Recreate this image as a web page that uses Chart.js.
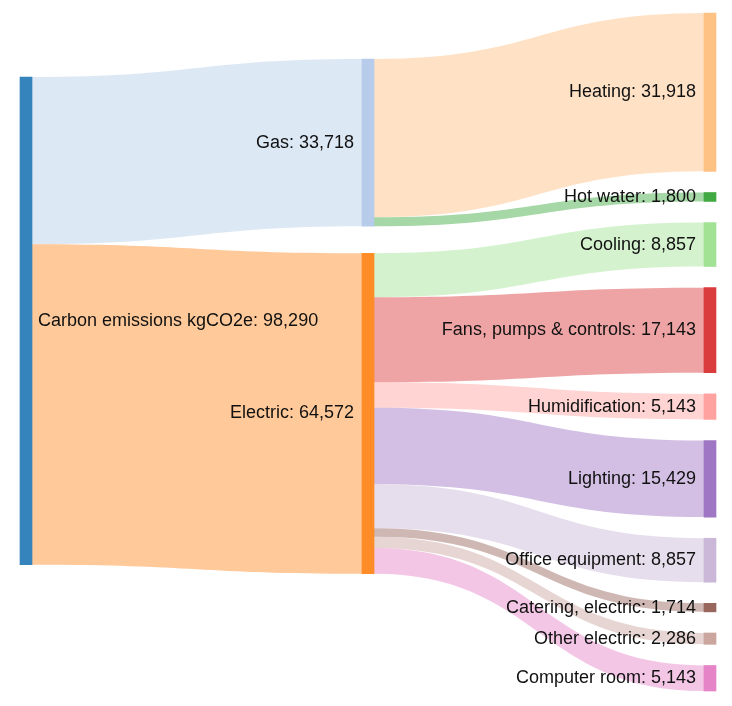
<!DOCTYPE html>
<html>
<head>
<meta charset="utf-8">
<script src="https://cdn.jsdelivr.net/npm/chart.js@4.4.1/dist/chart.umd.min.js"></script>
<style>
  html, body { margin: 0; padding: 0; background: #ffffff; }
  #wrap { width: 732px; height: 706px; position: relative; }
</style>
</head>
<body>
<div id="wrap"><canvas id="c"></canvas></div>
<script>
// ---- data ----
const nodeNames = ['Carbon emissions kgCO2e', 'Gas', 'Electric', 'Heating', 'Hot water', 'Cooling',
  'Fans, pumps & controls', 'Humidification', 'Lighting', 'Office equipment',
  'Catering, electric', 'Other electric', 'Computer room'];
const nodeColumns = [0, 1, 1, 2, 2, 2, 2, 2, 2, 2, 2, 2, 2];
const nodeColors = ['#1f77b4', '#aec7e8', '#ff7f0e', '#ffbb78', '#2ca02c', '#98df8a',
  '#d62728', '#ff9896', '#9467bd', '#c5b0d5', '#8c564b', '#c49c94', '#e377c2'];
const linkSources = [0, 0, 1, 1, 2, 2, 2, 2, 2, 2, 2, 2];
const linkTargets = [1, 2, 3, 4, 5, 6, 7, 8, 9, 10, 11, 12];
const linkValues = [33718, 64572, 31918, 1800, 8857, 17143, 5143, 15429, 8857, 1714, 2286, 5143];
const columnLabels = ['0', '1', '2'];

// ---- layout options (value units on the y scale) ----
const layoutOpts = {
  yMax: 142300,
  colTop: [15520, 11890, 2620],
  colGap: [0, 5440, 4263],
  nodeWidth: 12
};

// node values
const nodeValues = nodeNames.map((_, i) => {
  let inSum = 0, outSum = 0;
  linkValues.forEach((v, k) => {
    if (linkTargets[k] === i) inSum += v;
    if (linkSources[k] === i) outSum += v;
  });
  return Math.max(inSum, outSum);
});

// stack nodes in each column
const nodeTop = [], nodeBottom = [];
const colCursor = layoutOpts.colTop.slice();
nodeNames.forEach((_, i) => {
  const c = nodeColumns[i];
  nodeTop[i] = colCursor[c];
  nodeBottom[i] = nodeTop[i] + nodeValues[i];
  colCursor[c] = nodeBottom[i] + layoutOpts.colGap[c];
});

// link offsets
const linkSrcTop = [], linkTgtTop = [];
const outCursor = nodeTop.slice(), inCursor = nodeTop.slice();
linkValues.forEach((v, k) => {
  linkSrcTop[k] = outCursor[linkSources[k]];
  outCursor[linkSources[k]] += v;
  linkTgtTop[k] = inCursor[linkTargets[k]];
  inCursor[linkTargets[k]] += v;
});

function hexA(hex, a) {
  const n = parseInt(hex.slice(1), 16);
  return `rgba(${(n >> 16) & 255},${(n >> 8) & 255},${n & 255},${a})`;
}

const datasets = nodeNames.map((name, i) => {
  const d = columnLabels.map(() => null);
  d[nodeColumns[i]] = [nodeTop[i], nodeBottom[i]];
  return {
    label: name,
    data: d,
    backgroundColor: hexA(nodeColors[i], 0.9),
    borderWidth: 0,
    barThickness: layoutOpts.nodeWidth,
    grouped: false,
    clip: false
  };
});

const flowPlugin = {
  id: 'flows',
  beforeDatasetsDraw(chart) {
    const ctx = chart.ctx, xs = chart.scales.x, ys = chart.scales.y;
    const hw = layoutOpts.nodeWidth / 2;
    ctx.save();
    linkValues.forEach((v, k) => {
      const s = linkSources[k], t = linkTargets[k];
      const x0 = xs.getPixelForValue(nodeColumns[s]) + hw;
      const x1 = xs.getPixelForValue(nodeColumns[t]) - hw;
      const xm = (x0 + x1) / 2;
      const a0 = ys.getPixelForValue(linkSrcTop[k]);
      const a1 = ys.getPixelForValue(linkSrcTop[k] + v);
      const b0 = ys.getPixelForValue(linkTgtTop[k]);
      const b1 = ys.getPixelForValue(linkTgtTop[k] + v);
      ctx.beginPath();
      ctx.moveTo(x0, a0);
      ctx.bezierCurveTo(xm, a0, xm, b0, x1, b0);
      ctx.lineTo(x1, b1);
      ctx.bezierCurveTo(xm, b1, xm, a1, x0, a1);
      ctx.closePath();
      ctx.fillStyle = hexA(nodeColors[t], 0.42);
      ctx.fill();
    });
    ctx.restore();
  },
  afterDatasetsDraw(chart) {
    const ctx = chart.ctx, xs = chart.scales.x, ys = chart.scales.y;
    const hw = layoutOpts.nodeWidth / 2;
    ctx.save();
    ctx.font = '18px "Liberation Sans", Arial, sans-serif';
    ctx.fillStyle = '#111111';
    ctx.textBaseline = 'middle';
    nodeNames.forEach((name, i) => {
      const c = nodeColumns[i];
      const xc = xs.getPixelForValue(c);
      const yc = ys.getPixelForValue((nodeTop[i] + nodeBottom[i]) / 2);
      const txt = name + ': ' + nodeValues[i].toLocaleString('en-US');
      if (c === 0) {
        ctx.textAlign = 'left';
        ctx.fillText(txt, xc + hw + 6, yc);
      } else {
        ctx.textAlign = 'right';
        ctx.fillText(txt, xc - hw - 8, yc);
      }
    });
    ctx.restore();
  }
};

new Chart(document.getElementById('c'), {
  type: 'bar',
  data: { labels: columnLabels, datasets },
  options: {
    responsive: true,
    maintainAspectRatio: false,
    animation: false,
    layout: { padding: { left: 26, right: 22, top: 0, bottom: 0 } },
    plugins: { legend: { display: false }, tooltip: { enabled: false } },
    scales: {
      x: { type: 'category', display: false, offset: false, grid: { display: false } },
      y: { type: 'linear', display: false, reverse: true, min: 0, max: layoutOpts.yMax }
    }
  },
  plugins: [flowPlugin]
});
</script>
</body>
</html>
